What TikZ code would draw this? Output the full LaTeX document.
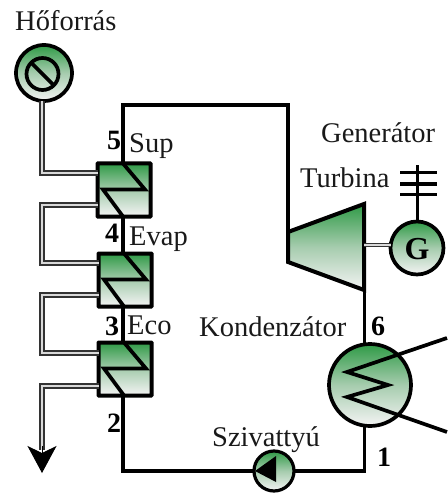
\documentclass[tikz,border=0pt]{standalone}
\usepackage{fontspec}
\setmainfont{Liberation Serif}
\usetikzlibrary{arrows.meta}
\definecolor{gtop}{HTML}{2F9A46}
\definecolor{gmid}{HTML}{A6CCAE}
\definecolor{gbot}{HTML}{F4F4F4}
\tikzset{
  grad/.style={top color=gtop,bottom color=gbot,middle color=gmid,draw=black,outer sep=0pt,inner sep=0pt},
  hx/.style={grad,rectangle,minimum width=53pt,minimum height=53pt,line width=4pt,rounded corners=0.5pt},
  pipe/.style={draw=black,line width=3.7pt,line join=miter},
  stream/.style={draw=black!80,line width=2.4pt,double=white!85!black,double distance=1.8pt,line join=miter},
  lbl/.style={font=\fontsize{28.5}{30}\selectfont,anchor=base west,inner sep=0pt,text=black!90},
  num/.style={font=\fontsize{28}{30}\selectfont\bfseries,anchor=base west,inner sep=0pt},
}
\newcommand{\zig}[1]{\draw[pipe] ([xshift=-1pt]#1.north) -- ([xshift=21pt,yshift=-26pt]#1.north) -- ([xshift=-21pt,yshift=-26pt]#1.north) -- ([xshift=-1pt]#1.south);}
\begin{document}
\begin{tikzpicture}[x=1pt,y=-1pt]
\useasboundingbox (0,0) rectangle (447,494);
% heat source
\node[grad,circle,minimum size=56pt,line width=3.7pt] (src) at (44,73) {};
\node[circle,draw=black,line width=3.7pt,minimum size=32pt,inner sep=0pt,outer sep=0pt] (srci) at (42.5,74) {};
\draw[pipe] (srci.north west) -- (srci.south east);
% heat exchangers
\node[hx] (sup) at (124,190) {};
\node[hx] (eva) at (125,280) {};
\node[hx] (eco) at (125,369) {};
% flue gas streams
\coordinate (c1) at (42,173);
\coordinate (c2) at (42,205);
\coordinate (c3) at (42,263);
\coordinate (c4) at (42,295);
\coordinate (c5) at (42,353);
\coordinate (c6) at (42,386);
\coordinate (out) at (42,473);
\draw[stream] (src.south -| c1) -- (c1) -- (c1 -| sup.west);
\draw[stream] (c2 -| sup.west) -- (c2) -- (c3) -- (c3 -| eva.west);
\draw[stream] (c4 -| eva.west) -- (c4) -- (c5) -- (c5 -| eco.west);
\draw[stream] (c6 -| eco.west) -- (c6) -- (42,450);
\draw[black,line width=1pt,-{Stealth[length=27pt,width=29pt,inset=7pt]}] (42,446) -- (out);
% turbine, generator, condenser, pump
\path[grad,line width=4pt,line join=miter,draw] (288,232) -- (364,204) -- (364,290) -- (288,262) -- cycle;
\coordinate (tin) at (288,232);
\coordinate (tout) at (364.5,290);
\coordinate (tsh) at (364,245);
\node[grad,circle,minimum size=53pt,line width=3.7pt] (gen) at (417,248) {};
\node[grad,circle,minimum size=82pt,line width=3.7pt] (con) at (370,385) {};
\node[grad,circle,minimum size=40pt,line width=3.2pt] (pum) at (274,471) {};
\fill[black] (255,471) -- (276,456) -- (276,482) -- cycle;
% working fluid
\coordinate (tl) at (123,105);
\coordinate (tr) at (288,105);
\coordinate (br) at (364.5,471);
\coordinate (bl) at (123,471);
\draw[pipe] (tin) -- (tr) -- (tl) -- (tl |- sup.north);
\draw[pipe] (123,216) -- (123,254);
\draw[pipe] (123,306) -- (123,344);
\draw[pipe] (tout) -- (tout |- con.north);
\draw[pipe] (br |- con.south) -- (br) -- (pum.east);
\draw[pipe] (pum.west) -- (bl) -- (123,395);
\zig{sup}\zig{eva}\zig{eco}
% condenser coil
\coordinate (ca) at (447,338);
\coordinate (cb) at (447,432);
\draw[pipe] (ca) -- (347,372) -- (388,385) -- (347,397) -- (cb);
% generator shaft and grid
\draw[stream,line width=1.3pt,double distance=2pt] (tsh) -- (tsh -| gen.west);
\coordinate (gt) at (417,165);
\draw[pipe,line width=3pt] (gen.north) -- (gt);
\draw[pipe,line width=3pt] (400,173) -- (437,173);
\draw[pipe,line width=3pt] (400,184) -- (437,184);
\draw[pipe,line width=3pt] (400,194) -- (437,194);
% labels
\node[font=\fontsize{32}{34}\selectfont\bfseries,anchor=base,inner sep=0pt] (gl) at (417,259) {G};
\node[lbl] (t1) at (15,31) {Hőforrás};
\node[lbl] (t2) at (129,153) {Sup};
\node[lbl] (t3) at (129,245) {Evap};
\node[lbl] (t4) at (127,334) {Eco};
\node[lbl] (t5) at (321,143) {Generátor};
\node[lbl] (t6) at (300,187) {Turbina};
\node[lbl] (t7) at (199,336) {Kondenzátor};
\node[lbl] (t8) at (212,446) {Szivattyú};
\node[num] (n5) at (107,150) {5};
\node[num] (n4) at (105,242) {4};
\node[num] (n3) at (105,335) {3};
\node[num] (n2) at (107,432) {2};
\node[num] (n6) at (371,335) {6};
\node[num] (n1) at (377,466) {1};
\end{tikzpicture}
\end{document}
